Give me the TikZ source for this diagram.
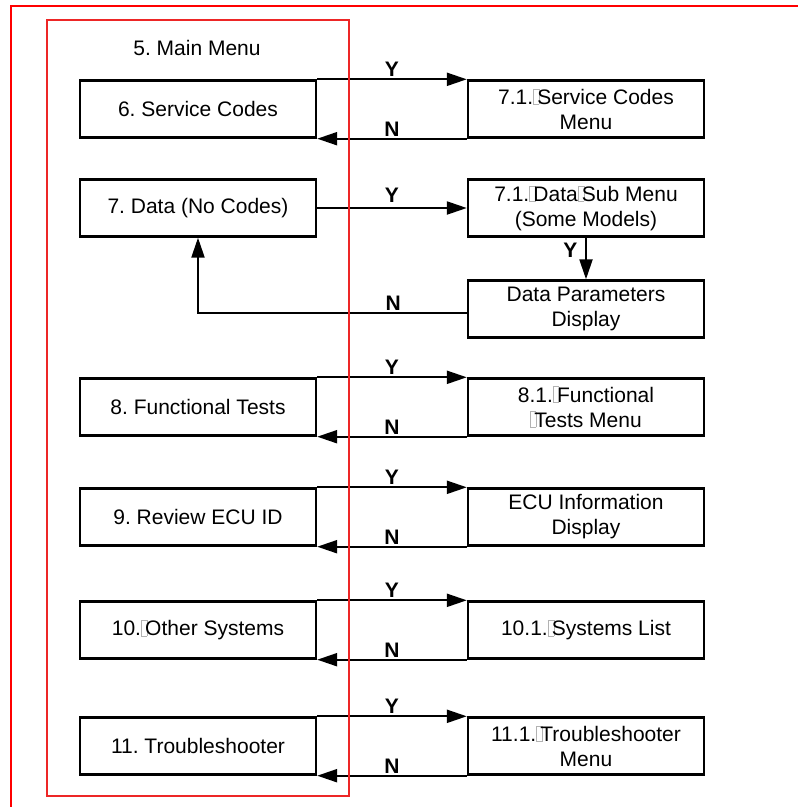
\documentclass[tikz,border=0pt]{standalone}
\usepackage{fontspec}
\setmainfont{Liberation Sans}
\usetikzlibrary{arrows.meta}
\frenchspacing
\definecolor{frame}{rgb}{1,0,0}
\definecolor{inner}{rgb}{0.93,0.15,0.15}
\newcommand\tofu{\textcolor{gray!60}{\setlength\fboxrule{0.5pt}\setlength\fboxsep{0pt}\fbox{\rule{0pt}{0.72em}\hspace{0.25em}}}\kern-0.1em}
\tikzset{
  box/.style={draw=black, line width=2.4pt, minimum width=236pt, minimum height=57pt,
    inner sep=0pt, align=center, font=\fontsize{21}{25}\selectfont},
  arr/.style={line width=2.2pt, -{Triangle[length=20pt,width=13pt]}},
  yn/.style={font=\fontsize{21}{25}\selectfont\bfseries, inner sep=1.5pt},
  plain/.style={font=\fontsize{21}{25}\selectfont}
}
\begin{document}
\begin{tikzpicture}[x=1pt,y=-1pt]
\useasboundingbox (0,0) rectangle (798,807);
\fill[white] (0,0) rectangle (798,807);

\node[plain] (mm) at (197,48) {5. Main Menu};

% left column
\node[box] (l6) at (198,109) {6. Service Codes};
\node[box] (l7) at (198,208) {7. Data (No Codes)};
\node[box] (l8) at (198,407) {8. Functional Tests};
\node[box] (l9) at (198,517) {9. Review ECU ID};
\node[box] (l10) at (198,630) {10.\tofu Other Systems};
\node[box] (l11) at (198,746) {11. Troubleshooter};

% right column
\node[box] (r6) at (586,109) {7.1.\tofu Service Codes\\Menu};
\node[box] (r7) at (586,208) {7.1.\tofu Data\tofu Sub Menu\\(Some Models)};
\node[box] (dp) at (586,309) {Data Parameters\\Display};
\node[box] (r8) at (586,407) {8.1.\tofu Functional\\\tofu Tests Menu};
\node[box] (r9) at (586,517) {ECU Information\\Display};
\node[box] (r10) at (586,630) {10.1.\tofu Systems List};
\node[box] (r11) at (586,746) {11.1.\tofu Troubleshooter\\Menu};

% connectors
\foreach \a/\b in {l6/r6, l8/r8, l9/r9, l10/r10, l11/r11}{
  \draw[arr] (\a.north east) -- node[yn, above] {Y} (\b.north west);
  \draw[arr] (\b.south west) -- node[yn, above] {N} (\a.south east);
}
\draw[arr] (l7.east) -- node[yn, above=3pt] {Y} (r7.west);
\draw[arr] (r7.south) -- node[yn, left=6pt, pos=0.3] {Y} (dp.north);
\draw[arr] ([yshift=-4pt]dp.west) -| node[yn, above, pos=0.137] {N} (l7.south);

% red frames
\draw[inner, line width=1.2pt] (47,20) rectangle (349,796);
\draw[frame, line width=2.2pt] (11,807) -- (11,6) -- (798,6);
\end{tikzpicture}
\end{document}
